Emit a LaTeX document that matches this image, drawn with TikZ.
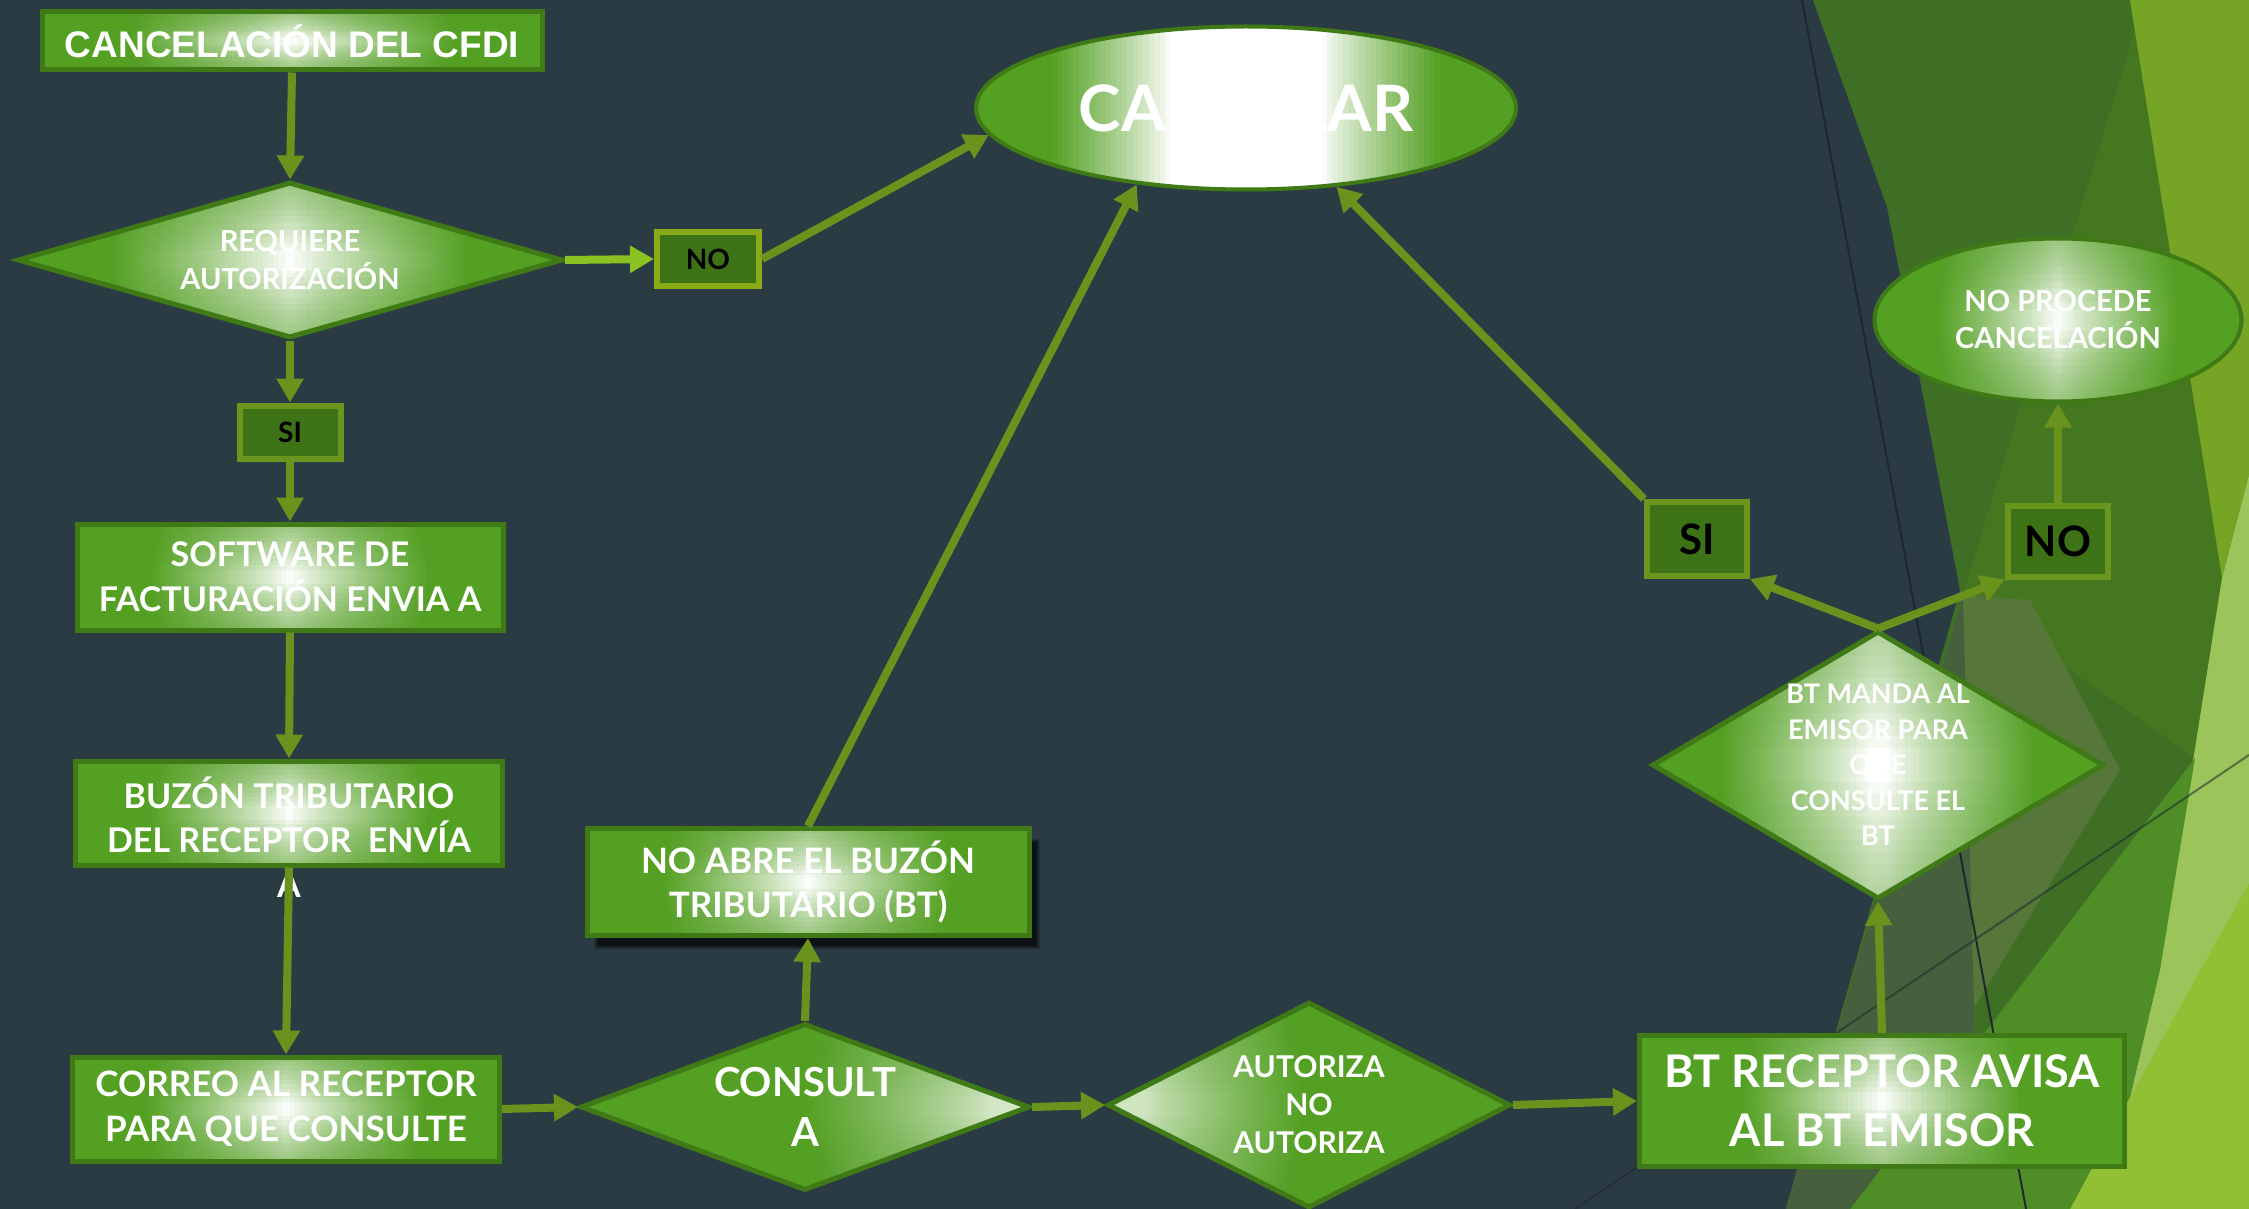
\documentclass[tikz,border=0pt]{standalone}
\usepackage{fontspec}
\setmainfont{Lato}
\newfontfamily\arialb{Liberation Sans}
\usetikzlibrary{shapes.geometric,arrows.meta,shadows.blur}
\definecolor{bgslate}{HTML}{2B3B44}
\definecolor{gmain}{HTML}{53A022}
\definecolor{gborder}{HTML}{3F7A17}
\definecolor{gdark}{HTML}{3D7316}
\definecolor{olivel}{HTML}{6B961E}
\definecolor{arrowc}{HTML}{6A931E}
\definecolor{arrowl}{HTML}{8BC120}
\definecolor{fdg}{HTML}{3F6F24}
\definecolor{flg}{HTML}{44771F}
\definecolor{folive}{HTML}{76A526}
\definecolor{flight}{HTML}{9BC45A}
\definecolor{fbright}{HTML}{91C034}
\definecolor{fmed}{HTML}{4F8D26}
\definecolor{fgo}{HTML}{57763A}
\definecolor{fgg}{HTML}{46603D}
\definecolor{fline}{HTML}{1E282D}
\newcommand{\myfs}[2]{\fontsize{#1}{#2}\selectfont}
\newdimen\glX \newdimen\glY \newdimen\glW \newdimen\glH \newdimen\glXb
% glow made of thin stripes: #1 centre (0..1), #2 plateau half width, #3 transition width, #4 minimum green percent, #5 top/bottom tint opacity
\newcommand{\glowpp}[5]{%
  \pgfextractx{\glX}{\pgfpointanchor{path picture bounding box}{south west}}%
  \pgfextracty{\glY}{\pgfpointanchor{path picture bounding box}{south west}}%
  \pgfextractx{\glW}{\pgfpointanchor{path picture bounding box}{north east}}%
  \pgfextracty{\glH}{\pgfpointanchor{path picture bounding box}{north east}}%
  \glXb=\glW
  \advance\glW by -\glX
  \divide\glW by 100
  \pgfmathsetlengthmacro\glYa{\the\glY}%
  \pgfmathsetlengthmacro\glYb{\the\glH}%
  \pgfmathsetlengthmacro\glXa{\the\glX}%
  \pgfmathsetlengthmacro\glXc{\the\glXb}%
  \foreach \i in {0,...,99}{%
    \pgfmathsetmacro\gT{(\i+0.5)/100}%
    \pgfmathsetmacro\gD{max(0.001,min(1,(abs(\gT-#1)-#2)/#3))}%
    \pgfmathsetmacro\gP{#4+(100-#4)*pow(\gD,0.85)}%
    \pgfmathsetlengthmacro\xa{\the\glX+\the\glW*\i}%
    \pgfmathsetlengthmacro\xb{\the\glX+\the\glW*(\i+1)+1pt}%
    \fill[gmain!\gP!white] (\xa,\glYa) rectangle (\xb,\glYb);
  }%
  \foreach \k in {1,...,10}{%
    \pgfmathsetlengthmacro\yt{\glYb-(\glYb-\glYa)*\k/23}%
    \pgfmathsetlengthmacro\yb{\glYa+(\glYb-\glYa)*\k/23}%
    \fill[gmain, opacity=#5] (\glXa,\glYb) rectangle (\glXc,\yt);
    \fill[gmain, opacity=#5] (\glXa,\glYa) rectangle (\glXc,\yb);
  }}
\tikzset{
  shapebase/.style={draw=gborder, line width=5pt, inner sep=0pt, fill=gmain, path picture={\glowpp{0.5}{0.0}{0.33}{0}{0.07}}},
  procbox/.style={shapebase, rectangle},
  decision/.style={shapebase, diamond},
  terminal/.style={shapebase, ellipse, line width=4pt},
  tagbox/.style={rectangle, fill=gdark, draw=olivel, line width=6pt, inner sep=0pt, text=black},
  wtext/.style={text=white, align=center, inner sep=0pt},
  conn/.style={draw=arrowc, line width=8pt, -{Triangle[length=24pt,width=26pt]}},
}
\begin{document}
\begin{tikzpicture}[x=1pt,y=-1pt]
\useasboundingbox (0,0) rectangle (2249,1209);
\fill[bgslate] (0,0) rectangle (2249,1209);
% background facets
\fill[fdg] (1813,0) -- (2249,0) -- (2249,1209) -- (1786,1209) -- (1960,590) -- (1887,207) -- cycle;
\fill[flg] (2135,30) -- (2222,578) -- (2195,758) -- (1963,595) -- cycle;
\fill[folive] (2130,0) -- (2249,0) -- (2249,475) -- (2222,578) -- cycle;
\fill[flight] (2249,475) -- (2222,578) -- (2160,969) -- (2130,1097) -- (2070,1209) -- (2249,1209) -- cycle;
\fill[fbright] (2249,883) -- (2249,1209) -- (2070,1209) -- (2130,1097) -- cycle;
\fill[fmed] (2195,758) -- (2160,969) -- (2130,1097) -- (2070,1209) -- (1850,1209) -- cycle;
\fill[fgo] (1963,595) -- (2030,600) -- (2120,770) -- (1850,1209) -- (1786,1209) -- cycle;
\fill[fgg] (1963,595) -- (1786,1209) -- (1850,1209) -- (1975,1046) -- cycle;
\draw[fline, line width=2pt] (1802,0) -- (2026,1209);
\draw[fline, line width=2pt, opacity=0.55] (1575,1209) -- (2249,755);

% nodes
\node[procbox, minimum width=500pt, minimum height=58pt,
  label={[wtext, font=\arialb\bfseries\myfs{37}{44}]center:CANCELACIÓN DEL CFDI}] (cfdi) at (292,41) {};
\node[decision, minimum width=545pt, minimum height=156pt,
  label={[wtext, font=\bfseries\myfs{29}{38}]center:REQUIERE\\AUTORIZACIÓN}] (req) at (290,260) {};
\node[tagbox, minimum width=101pt, minimum height=53pt, font=\bfseries\myfs{28}{34}] (si1) at (290,432) {SI};
\node[tagbox, draw=olivel!80!yellow, minimum width=102pt, minimum height=53pt, font=\bfseries\myfs{28}{34}] (no1) at (708,259) {NO};
\node[terminal, path picture={\glowpp{0.5}{0.14}{0.22}{0}{0}}, minimum width=540pt, minimum height=163pt,
  label={[wtext, font=\bfseries\myfs{64}{70}]center:CANCELAR}] (can) at (1246,108) {};
\node[procbox, minimum width=426pt, minimum height=106pt,
  label={[wtext, font=\bfseries\myfs{34}{45}]center:SOFTWARE DE\\FACTURACIÓN ENVIA A}] (soft) at (290,577) {};
\node[procbox, minimum width=427pt, minimum height=104pt,
  label={[wtext, font=\bfseries\myfs{34}{44.5}, yshift=-24pt]center:BUZÓN TRIBUTARIO\\DEL RECEPTOR\ \ ENVÍA\\A}] (buz) at (289,813) {};
\node[procbox, minimum width=427pt, minimum height=104pt,
  label={[wtext, font=\bfseries\myfs{35}{45}]center:CORREO AL RECEPTOR\\PARA QUE CONSULTE}] (corr) at (286,1109) {};
\node[procbox, minimum width=442pt, minimum height=107pt,
  blur shadow={shadow xshift=9pt, shadow yshift=-12pt, shadow opacity=70, shadow blur steps=10},
  label={[wtext, font=\bfseries\myfs{35}{44}]center:NO ABRE EL BUZÓN\\TRIBUTARIO (BT)}] (nob) at (808,882) {};
\node[decision, path picture={\glowpp{0.95}{0.03}{0.42}{25}{0.04}}, minimum width=449pt, minimum height=167pt,
  label={[wtext, font=\bfseries\myfs{40}{50}]center:CONSULT\\A}] (cons) at (805,1107) {};
\node[decision, path picture={\glowpp{0.06}{0.03}{0.40}{28}{0.04}}, minimum width=403pt, minimum height=206pt,
  label={[wtext, font=\bfseries\myfs{30}{38}]center:AUTORIZA\\NO\\AUTORIZA}] (aut) at (1309,1105) {};
\node[procbox, path picture={\glowpp{0.5}{0.0}{0.29}{0}{0.07}}, minimum width=485pt, minimum height=131pt,
  label={[wtext, font=\bfseries\myfs{45}{59}]center:BT RECEPTOR AVISA\\AL BT EMISOR}] (btr) at (1882,1101) {};
\node[decision, path picture={\glowpp{0.5}{0.02}{0.33}{0}{0.05}}, minimum width=452pt, minimum height=268pt,
  label={[wtext, font=\bfseries\myfs{27}{35.5}]center:BT MANDA AL\\EMISOR PARA\\QUE\\CONSULTE EL\\BT}] (btm) at (1878,765) {};
\node[tagbox, minimum width=100pt, minimum height=74pt, font=\bfseries\myfs{42}{48}] (si2) at (1697,539) {SI};
\node[tagbox, minimum width=100pt, minimum height=71pt, font=\bfseries\myfs{42}{48}] (no2) at (2058,541) {NO};
\node[terminal, minimum width=367pt, minimum height=163pt,
  label={[wtext, font=\bfseries\myfs{29}{37}]center:NO PROCEDE\\CANCELACIÓN}] (nop) at (2058,320) {};

% connectors
\draw[conn] (cfdi.south) -- (req.north);
\draw[conn] (req.south) -- (si1.north);
\draw[conn, draw=arrowl] (req.east) -- (no1.west);
\draw[conn] (no1.east) -- (can.186);
\draw[conn] (si1.south) -- (soft.north);
\draw[conn] (soft.south) -- (buz.north);
\draw[conn] (buz.south) -- (corr.north);
\draw[conn] (corr.east) -- (cons.west);
\draw[conn] (cons.north) -- (nob.south);
\draw[conn] (nob.north) -- (can.215);
\draw[conn] (cons.east) -- (aut.west);
\draw[conn] (aut.east) -- (btr.west);
\draw[conn] (btr.north) -- (btm.south);
\draw[conn] (btm.north) -- (si2.south east);
\draw[conn] (btm.north) -- (no2.south west);
\draw[conn] (si2.north west) -- (can.319);
\draw[conn] (no2.north) -- (nop.south);
\end{tikzpicture}
\end{document}
